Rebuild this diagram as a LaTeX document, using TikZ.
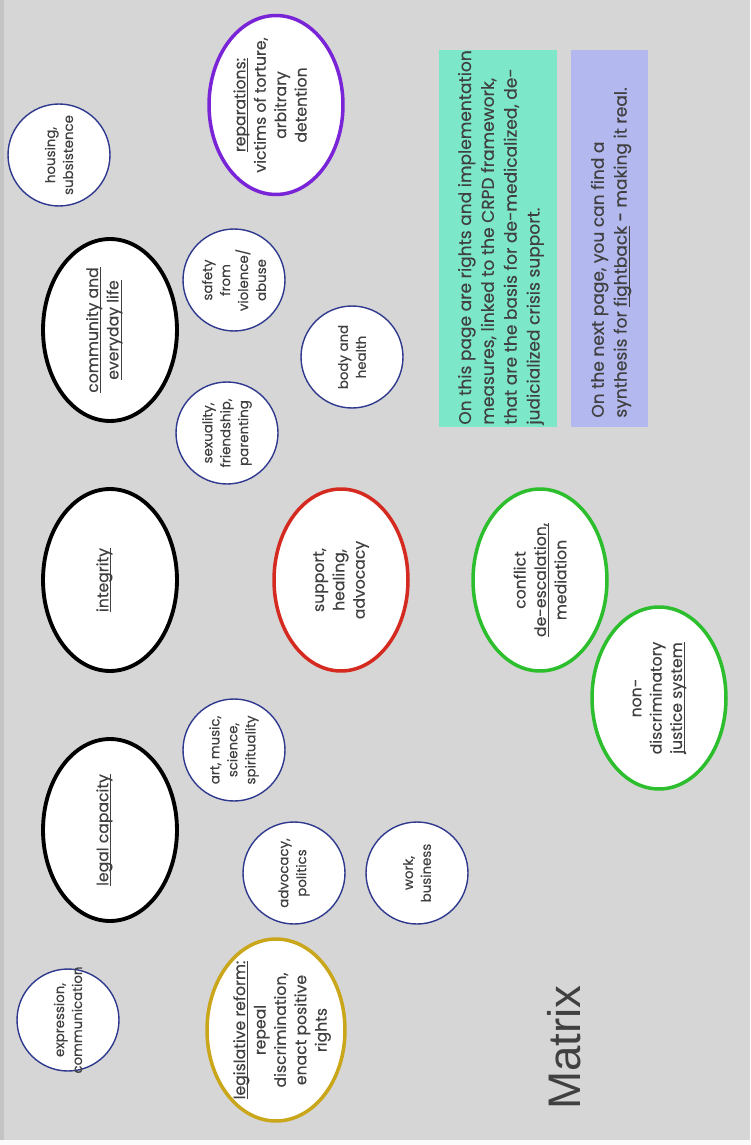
\documentclass[tikz,border=0pt]{standalone}
\usepackage{fontspec}
\setmainfont{Poppins}[FakeBold=0.3]
\newfontfamily\titlefont{Liberation Sans}
\usetikzlibrary{shapes.geometric}

\definecolor{pagegray}{HTML}{D6D6D6}
\definecolor{edgegray}{HTML}{C4C4C4}
\definecolor{inkgray}{HTML}{404040}
\definecolor{areanavy}{HTML}{2F3A8F}
\definecolor{reppurple}{HTML}{7A24D8}
\definecolor{supred}{HTML}{D42A20}
\definecolor{justgreen}{HTML}{2DBE2D}
\definecolor{lawgold}{HTML}{C9A61A}
\definecolor{notegreen}{HTML}{7DE8C9}
\definecolor{noteblue}{HTML}{B3B8EE}

% underline sitting just under the baseline
\newcommand\ulword[1]{\underline{\smash{#1}}}

\tikzset{
  core/.style={ellipse, draw=black, line width=2.2pt, fill=white,
    minimum width=2.68cm, minimum height=3.64cm, inner sep=0pt},
  measure/.style={core, draw=#1, line width=2pt},
  area/.style={circle, draw=areanavy, line width=0.8pt, fill=white,
    minimum size=2.04cm, inner sep=0pt},
  bigtext/.style={rotate=90, align=center, text=inkgray, inner sep=0pt,
    font=\fontsize{8.9}{11.6}\selectfont},
  smalltext/.style={bigtext, font=\fontsize{7.6}{10.2}\selectfont},
  notebox/.style={fill=#1, minimum height=7.54cm, inner sep=0pt},
  notetext/.style={rotate=90, align=left, anchor=west, text=inkgray,
    inner sep=0pt, font=\fontsize{9.7}{13}\selectfont},
}

\begin{document}
\begin{tikzpicture}[x=0.02cm,y=-0.02cm]
% page, 750 x 1145 px
\fill[pagegray] (0,0) rectangle (750,1145);
\fill[edgegray] (0,0) rectangle (4,1145);
\fill[white!90!pagegray] (0,1140) rectangle (750,1145);
\useasboundingbox (0,0) rectangle (750,1145);

% the three core rights
\node[core] (comm) at (110,330) {};
\node[bigtext] (comm-t) at (comm) {\ulword{community and}\\\ulword{everyday life}};
\node[core] (integ) at (110,580) {};
\node[bigtext] (integ-t) at (integ) {\ulword{integrity}};
\node[core] (legal) at (110,830) {};
\node[bigtext] (legal-t) at (legal) {\ulword{legal capacity}};

% implementation measures
\node[measure=reppurple, minimum height=3.58cm] (repar) at (276,105) {};
\node[bigtext] (repar-t) at (repar) {\ulword{reparations:}\\victims of torture,\\arbitrary\\detention};
\node[measure=supred] (support) at (341,580) {};
\node[bigtext] (support-t) at (support) {support,\\healing,\\advocacy};
\node[measure=justgreen] (deesc) at (540,580) {};
\node[bigtext] (deesc-t) at (deesc) {conflict\\\ulword{de-escalation,}\\mediation};
\node[measure=justgreen] (justice) at (659,698) {};
\node[bigtext] (justice-t) at (justice) {non-\\discriminatory\\\ulword{justice system}};
\node[measure=lawgold, minimum width=2.76cm] (reform) at (276,1030) {};
\node[bigtext] (reform-t) at ([xshift=12*0.02cm]reform.center) {\ulword{legislative reform:}\\repeal\\discrimination,\\enact positive\\rights};

% areas of life
\node[area] (house) at (59,155) {};
\node[smalltext] (house-t) at (house) {housing,\\subsistence};
\node[area] (safety) at (234,280) {};
\node[smalltext] (safety-t) at (safety) {safety\\from\\violence/\\abuse};
\node[area] (body) at (352,357) {};
\node[smalltext] (body-t) at (body) {body and\\health};
\node[area] (sex) at (227,433) {};
\node[smalltext] (sex-t) at (sex) {sexuality,\\friendship,\\parenting};
\node[area] (art) at (234,750) {};
\node[smalltext] (art-t) at (art) {art, music,\\science,\\spirituality};
\node[area] (advoc) at (294,873) {};
\node[smalltext] (advoc-t) at (advoc) {advocacy,\\politics};
\node[area] (work) at (417,873) {};
\node[smalltext] (work-t) at (work) {work,\\business};
\node[area] (expr) at (68,1020) {};
\node[smalltext] (expr-t) at (expr) {expression,\\communication};

% explanatory notes
\node[notebox=notegreen, minimum width=2.36cm] (note1) at (498,238.5) {};
\node[notetext] (note1-t) at (501,425) {On this page are rights and implementation\\measures, linked to the CRPD framework,\\that are the basis for de-medicalized, de-\\judicialized crisis support.};
\node[notebox=noteblue, minimum width=1.54cm] (note2) at (609.5,238.5) {};
\node[notetext] (note2-t) at (611,418) {On the next page, you can find a\\synthesis for \ulword{fightback} - making it real.};

% title
\node[rotate=90, anchor=base west, inner sep=0pt, text=inkgray,
  font=\titlefont\fontsize{26}{30}\selectfont] (title) at (580,1110) {Matrix};
\end{tikzpicture}
\end{document}
